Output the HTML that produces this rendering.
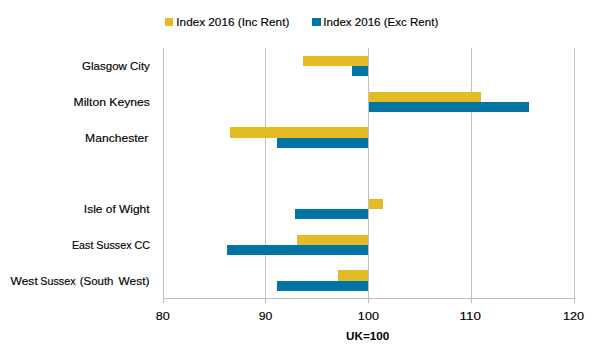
<!DOCTYPE html>
<html><head><meta charset="utf-8"><style>
html,body{margin:0;padding:0;background:#fff;width:600px;height:361px;overflow:hidden}
svg{display:block}
text{font-family:"Liberation Sans",sans-serif;font-size:11.2px;fill:#000;stroke:#000;stroke-width:0.15px}
</style></head><body>
<svg width="600" height="361" viewBox="0 0 600 361" xmlns="http://www.w3.org/2000/svg" shape-rendering="crispEdges">
<rect x="0" y="0" width="600" height="361" fill="#fff"/>
<rect x="163" y="48" width="1" height="255" fill="#BFBFBF"/>
<rect x="265" y="48" width="1" height="255" fill="#BFBFBF"/>
<rect x="368" y="48" width="1" height="255" fill="#BFBFBF"/>
<rect x="471" y="48" width="1" height="255" fill="#BFBFBF"/>
<rect x="574" y="48" width="1" height="255" fill="#BFBFBF"/>
<rect x="163" y="298" width="412" height="1" fill="#BFBFBF"/>
<rect x="303" y="56" width="65" height="10" fill="#E2BB25"/>
<rect x="352" y="66" width="16" height="10" fill="#0074A3"/>
<rect x="369" y="92" width="112" height="10" fill="#E2BB25"/>
<rect x="369" y="102" width="160" height="10" fill="#0074A3"/>
<rect x="230" y="127" width="138" height="10.5" fill="#E2BB25"/>
<rect x="277" y="137.5" width="91" height="10.5" fill="#0074A3"/>
<rect x="369" y="199" width="14" height="10" fill="#E2BB25"/>
<rect x="295" y="209" width="73" height="10" fill="#0074A3"/>
<rect x="297" y="235" width="71" height="10" fill="#E2BB25"/>
<rect x="227" y="245" width="141" height="10" fill="#0074A3"/>
<rect x="338" y="270" width="30" height="11" fill="#E2BB25"/>
<rect x="277" y="281" width="91" height="10" fill="#0074A3"/>
<rect x="165" y="18" width="8" height="8" fill="#E2BB25"/>
<rect x="312" y="18" width="8.8" height="8" fill="#0074A3"/>
<text x="82.12" y="70" textLength="67.77" lengthAdjust="spacingAndGlyphs">Glasgow City</text>
<text x="73.51" y="105.8" textLength="76.47" lengthAdjust="spacingAndGlyphs">Milton Keynes</text>
<text x="85.09" y="141.7" textLength="63.29" lengthAdjust="spacingAndGlyphs">Manchester</text>
<text x="83.86" y="213" textLength="65.70" lengthAdjust="spacingAndGlyphs">Isle of Wight</text>
<text x="71.94" y="248.7" textLength="78.04" lengthAdjust="spacingAndGlyphs">East Sussex CC</text>
<text x="10.54" y="284.5" textLength="27.21" lengthAdjust="spacingAndGlyphs">West</text>
<text x="40.32" y="284.5" textLength="35.18" lengthAdjust="spacingAndGlyphs">Sussex</text>
<text x="79.75" y="284.5" textLength="33.71" lengthAdjust="spacingAndGlyphs">(South</text>
<text x="118.54" y="284.5" textLength="30.93" lengthAdjust="spacingAndGlyphs">West)</text>
<text x="176.33" y="26" textLength="113.00" lengthAdjust="spacingAndGlyphs">Index 2016 (Inc Rent)</text>
<text x="323.34" y="26" textLength="114.92" lengthAdjust="spacingAndGlyphs">Index 2016 (Exc Rent)</text>
<text x="155.75" y="320" textLength="14.07" lengthAdjust="spacingAndGlyphs">80</text>
<text x="258.77" y="320" textLength="13.60" lengthAdjust="spacingAndGlyphs">90</text>
<text x="357.89" y="320" textLength="21.03" lengthAdjust="spacingAndGlyphs">100</text>
<text x="459.57" y="320" textLength="21.36" lengthAdjust="spacingAndGlyphs">110</text>
<text x="562.93" y="320" textLength="21.21" lengthAdjust="spacingAndGlyphs">120</text>
<text x="346.06" y="340" textLength="43.16" lengthAdjust="spacingAndGlyphs" font-weight="bold" style="stroke-width:0">UK=100</text>
</svg>
</body></html>
